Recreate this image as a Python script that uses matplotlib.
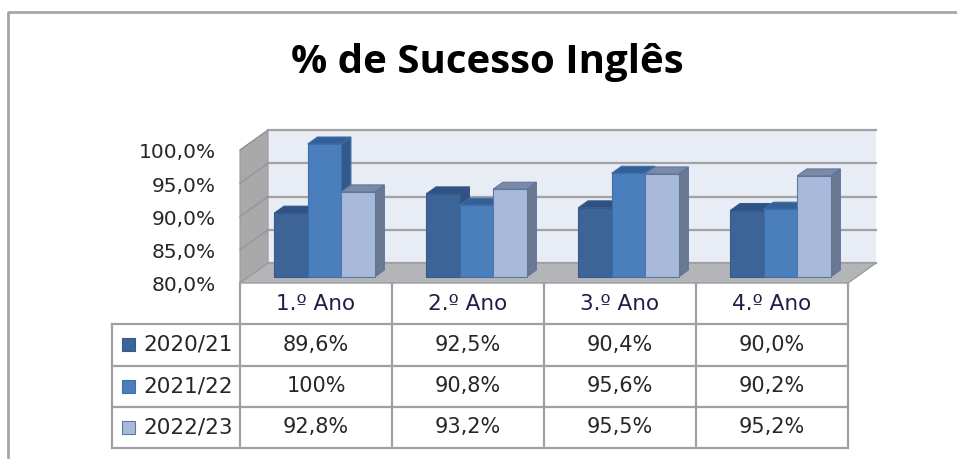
import numpy as np
import matplotlib.pyplot as plt
from matplotlib.patches import Polygon, Rectangle
from matplotlib.lines import Line2D

categories = ['1.º Ano', '2.º Ano', '3.º Ano', '4.º Ano']
series_names = ['2020/21', '2021/22', '2022/23']
vals_2020 = [89.6, 92.5, 90.4, 90.0]
vals_2021 = [100.0, 90.8, 95.6, 90.2]
vals_2022 = [92.8, 93.2, 95.5, 95.2]
labels_2020 = ['89,6%', '92,5%', '90,4%', '90,0%']
labels_2021 = ['100%', '90,8%', '95,6%', '90,2%']
labels_2022 = ['92,8%', '93,2%', '95,5%', '95,2%']
yticks = [80, 85, 90, 95, 100]
ytick_labels = ['80,0%', '85,0%', '90,0%', '95,0%', '100,0%']

values = [vals_2020, vals_2021, vals_2022]
cell_labels = [labels_2020, labels_2021, labels_2022]

# front / top / side colours per series
front_cols = ['#3C6496', '#4A7EBD', '#A9B9D9']
top_cols = ['#2E5282', '#34609A', '#7D8AA6']
side_cols = ['#2E5282', '#33598A', '#6B7891']
edge_cols = ['#34598A', '#3F6EA6', '#5A76A3']

W, H = 957, 459
fig = plt.figure(figsize=(W / 100, H / 100), dpi=100)

def fx(px):
    return px / W

def fy(py):
    return 1 - py / H

# front plane of the chart
ax = fig.add_axes([fx(240), fy(283), fx(848) - fx(240), fy(150) - fy(283)])
ax.set_xlim(0, 4)
ax.set_ylim(80, 100)
ax.axis('off')

# depth vector (full depth) in data units
DX = 28 / 152
DY = 3.0
ymin, ymax = 80, 100

def p(x, y, d):
    return (x + d * DX, y + d * DY)

# back wall
ax.add_patch(Polygon([p(0, ymin, 1), p(4, ymin, 1), p(4, ymax, 1), p(0, ymax, 1)],
                     closed=True, facecolor='#E8ECF5', edgecolor='none', clip_on=False, zorder=1))
for t in yticks:
    ax.add_line(Line2D([DX, 4 + DX], [t + DY, t + DY], color='#A3A3A3', lw=1.6,
                       clip_on=False, zorder=2))

# side wall
ax.add_patch(Polygon([p(0, ymin, 0), p(0, ymax, 0), p(0, ymax, 1), p(0, ymin, 1)],
                     closed=True, facecolor='#A9A9AB', edgecolor='#9A9A9A', lw=0.8,
                     clip_on=False, zorder=1))
for t in yticks:
    ax.add_line(Line2D([0, DX], [t, t + DY], color='#939393', lw=0.9, clip_on=False, zorder=2))

# floor
ax.add_patch(Polygon([p(0, ymin, 0), p(4, ymin, 0), p(4, ymin, 1), p(0, ymin, 1)],
                     closed=True, facecolor='#B4B5B8', edgecolor='#9C9C9C', lw=1.0,
                     clip_on=False, zorder=2))

# bars
bw = 0.22
d0, d1 = 0.3, 0.65
for i in range(len(categories)):
    start = i + 0.5 - 1.5 * bw
    for j in range(len(series_names)):
        v = values[j][i]
        x0 = start + j * bw
        x1 = x0 + bw
        z = 3 + i * 0.1 + j * 0.01
        ax.add_patch(Polygon([p(x1, ymin, d0), p(x1, v, d0), p(x1, v, d1), p(x1, ymin, d1)],
                             closed=True, facecolor=side_cols[j], edgecolor=edge_cols[j],
                             lw=0.8, clip_on=False, zorder=z))
        ax.add_patch(Polygon([p(x0, v, d0), p(x1, v, d0), p(x1, v, d1), p(x0, v, d1)],
                             closed=True, facecolor=top_cols[j], edgecolor=edge_cols[j],
                             lw=0.8, clip_on=False, zorder=z))
        ax.add_patch(Polygon([p(x0, ymin, d0), p(x1, ymin, d0), p(x1, v, d0), p(x0, v, d0)],
                             closed=True, facecolor=front_cols[j], edgecolor=edge_cols[j],
                             lw=0.8, clip_on=False, zorder=z))

# value axis labels
for t, lab in zip(yticks, ytick_labels):
    ax.text(-0.16, t - 0.45, lab, ha='right', va='center', fontsize=14.5,
            color='#262626', family='DejaVu Sans')

# data table
tab = fig.add_axes([fx(112), fy(448), fx(848) - fx(112), fy(283) - fy(448)])
left = -128 / 152
tab.set_xlim(left, 4)
tab.set_ylim(4, 0)
tab.axis('off')
gcol = '#A0A0A0'
for k in range(5):
    tab.add_line(Line2D([k, k], [0, 4], color=gcol, lw=1.6, clip_on=False))
tab.add_line(Line2D([left, left], [1, 4], color=gcol, lw=1.6, clip_on=False))
for r in range(1, 5):
    tab.add_line(Line2D([left, 4], [r, r], color=gcol, lw=1.6, clip_on=False))

for i, c in enumerate(categories):
    tab.text(i + 0.5, 0.5, c, ha='center', va='center', fontsize=15.5,
             color='#1E1E4A', family='DejaVu Sans')
for j, name in enumerate(series_names):
    yc = j + 1.5
    tab.add_patch(Rectangle((-118 / 152, yc - 0.16), 13 / 152, 0.32,
                            facecolor=front_cols[j], edgecolor=edge_cols[j], lw=0.8))
    tab.text(-97 / 152, yc, name, ha='left', va='center', fontsize=15.5,
             color='#262626', family='DejaVu Sans')
    for i in range(len(categories)):
        tab.text(i + 0.5, yc, cell_labels[j][i], ha='center', va='center',
                 fontsize=15, color='#262626', family='DejaVu Sans')

# title
fig.text(fx(487), fy(62), '% de Sucesso Inglês', ha='center', va='center',
         fontsize=29, fontweight='bold', family='Open Sans', color='#000000')

# outer chart frame
fig.add_artist(Line2D([fx(8), fx(8), 1.0], [0.0, fy(12), fy(12)],
                      transform=fig.transFigure, color='#A6A6A6', lw=2))

fig.savefig('out.png', dpi=100, facecolor='white')
